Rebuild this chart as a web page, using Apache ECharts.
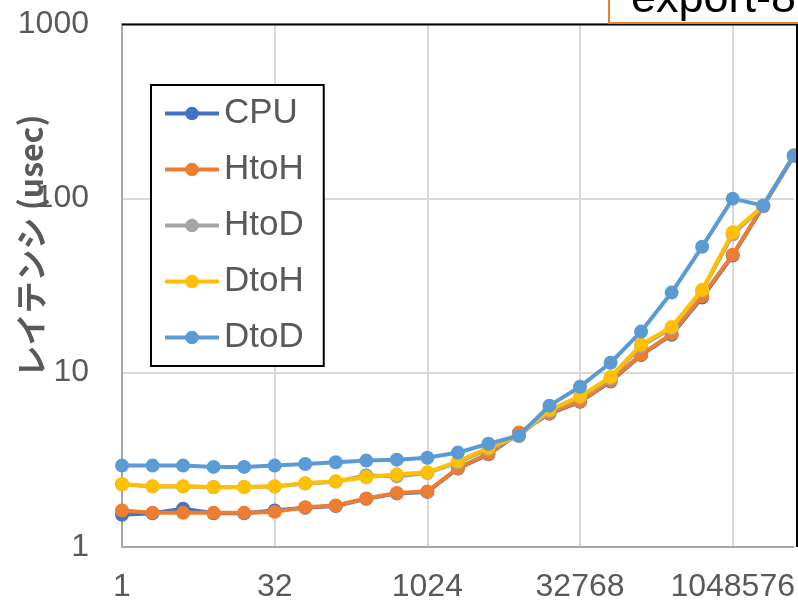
<!DOCTYPE html>
<html>
<head>
<meta charset="utf-8">
<script src="https://cdn.jsdelivr.net/npm/echarts@6/dist/echarts.min.js"></script>
<style>
  html, body { margin: 0; padding: 0; background: #ffffff; }
  #chart { width: 798px; height: 603px; }
</style>
</head>
<body>
<div id="chart"></div>
<script>
// Transfer size (bytes) for each measurement
const sizes = ['1', '2', '4', '8', '16', '32', '64', '128', '256', '512', '1024',
  '2048', '4096', '8192', '16384', '32768', '65536', '131072', '262144', '524288',
  '1048576', '2097152', '4194304'];

// Latency in microseconds
const cpu  = [1.53, 1.56, 1.66, 1.56, 1.56, 1.62, 1.68, 1.72, 1.89, 2.03, 2.07, 2.82, 3.40, 4.50, 5.82, 6.80, 8.90, 12.6, 16.5, 27.0, 47.0, 90.0, 175.0];
const htoh = [1.62, 1.57, 1.57, 1.57, 1.57, 1.59, 1.69, 1.73, 1.90, 2.04, 2.08, 2.84, 3.43, 4.53, 5.87, 6.84, 9.00, 12.7, 16.7, 27.4, 47.5, 90.8, 175.8];
const htod = [2.29, 2.22, 2.22, 2.20, 2.21, 2.22, 2.31, 2.37, 2.58, 2.54, 2.66, 3.05, 3.65, 4.33, 6.05, 7.20, 9.30, 14.2, 18.0, 29.5, 62.0, 90.5, 175.0];
const dtoh = [2.30, 2.23, 2.23, 2.21, 2.21, 2.23, 2.32, 2.38, 2.51, 2.61, 2.68, 3.10, 3.71, 4.35, 6.13, 7.31, 9.45, 14.5, 18.3, 29.9, 63.8, 90.8, 175.8];
const dtod = [2.93, 2.93, 2.93, 2.88, 2.88, 2.93, 2.99, 3.06, 3.13, 3.17, 3.25, 3.48, 3.91, 4.35, 6.47, 8.31, 11.4, 17.2, 28.8, 52.8, 99.6, 90.8, 175.8];

const seriesNames  = ['CPU', 'HtoH', 'HtoD', 'DtoH', 'DtoD'];
const seriesData   = [cpu, htoh, htod, dtoh, dtod];
const seriesColors = ['#4472C4', '#ED7D31', '#A5A5A5', '#FFC000', '#5B9BD5'];

const yAxisTitle = 'レイテンシ (usec)';
const cornerLabel = 'export-8';

const numFont = '"Liberation Sans", Arial, sans-serif';
const textGray = '#595959';
const gridGray = '#d9d9d9';

const chart = echarts.init(document.getElementById('chart'), null, { renderer: 'canvas' });

chart.setOption({
  animation: false,
  backgroundColor: '#ffffff',
  grid: { left: 122, right: 2, top: 24, bottom: 56, containLabel: false },
  legend: {
    orient: 'vertical',
    left: 151,
    top: 85,
    data: seriesNames,
    backgroundColor: '#ffffff',
    borderColor: '#000000',
    borderWidth: 2,
    padding: [11, 20, 11, 12],
    itemWidth: 54,
    itemHeight: 17,
    itemGap: 21,
    lineStyle: { width: 4 },
    textStyle: { fontFamily: numFont, fontSize: 35, color: textGray },
    z: 10
  },
  xAxis: {
    type: 'category',
    data: sizes,
    boundaryGap: false,
    axisLine: { show: true, lineStyle: { color: '#a6a6a6', width: 2 } },
    axisTick: { show: false },
    axisLabel: { interval: 4, margin: 24, fontSize: 32, color: textGray, fontFamily: numFont },
    splitLine: { show: true, interval: 4, lineStyle: { color: gridGray, width: 2 } }
  },
  yAxis: {
    type: 'log',
    logBase: 10,
    min: 1,
    max: 1000,
    axisLine: { show: true, lineStyle: { color: '#a6a6a6', width: 2 } },
    axisTick: { show: false },
    minorTick: { show: false },
    axisLabel: {
      margin: 33, fontSize: 32, color: textGray, fontFamily: numFont,
      formatter: (v) => String(v)
    },
    splitLine: { show: true, lineStyle: { color: gridGray, width: 2 } }
  },
  series: seriesNames.map((name, i) => ({
    name: name,
    type: 'line',
    data: seriesData[i],
    symbol: 'circle',
    symbolSize: 14,
    color: seriesColors[i],
    lineStyle: { width: 4, color: seriesColors[i] },
    itemStyle: { color: seriesColors[i] },
    z: 2 + i
  })),
  graphic: [
    {
      type: 'polyline',
      shape: { points: [[122, 24.5], [797, 24.5], [797, 547]] },
      style: { stroke: '#000000', lineWidth: 2, fill: null },
      z: 50
    },
    {
      type: 'rect',
      shape: { x: 609, y: -60, width: 220, height: 83 },
      style: { fill: '#ffffff', stroke: '#ED7D31', lineWidth: 2 },
      z: 60
    },
    {
      type: 'text',
      x: 631,
      y: 22,
      style: {
        text: cornerLabel,
        font: '45px "Liberation Sans", Arial, sans-serif',
        fill: '#000000',
        align: 'left',
        verticalAlign: 'bottom'
      },
      z: 61
    },
    {
      type: 'text',
      x: 31,
      y: 246,
      rotation: Math.PI / 2,
      style: {
        text: yAxisTitle,
        font: 'bold 32px "Noto Sans CJK JP", sans-serif',
        fill: textGray,
        align: 'center',
        verticalAlign: 'middle'
      },
      z: 70
    }
  ]
});
</script>
</body>
</html>
